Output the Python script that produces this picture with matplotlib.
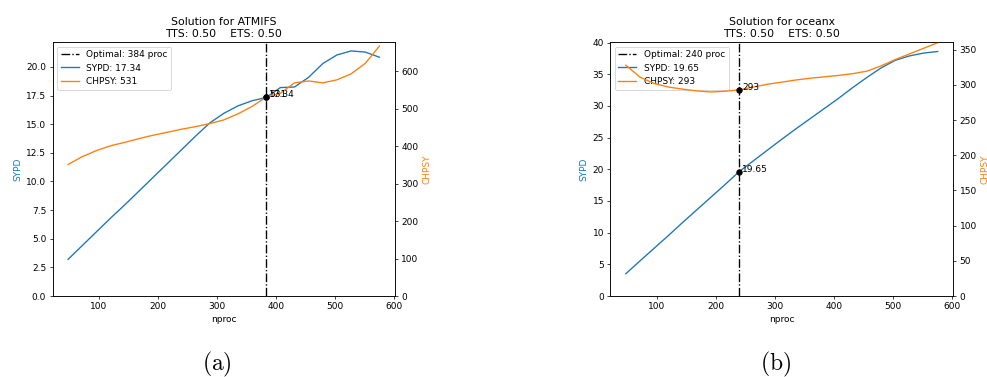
import matplotlib
matplotlib.use("Agg")
import matplotlib.pyplot as plt

plt.rcParams['mathtext.fontset'] = 'cm'

nproc = [48, 72, 96, 120, 144, 168, 192, 216, 240, 264, 288, 312,
         336, 360, 384, 408, 432, 456, 480, 504, 528, 552, 576]

# ATMIFS
sypd_atm = [3.2, 4.4, 5.6, 6.8, 7.95, 9.15, 10.35, 11.55, 12.75, 13.95, 15.1, 15.95,
            16.6, 17.05, 17.34, 18.2, 18.25, 19.1, 20.3, 21.05, 21.4, 21.3, 20.85]
chpsy_atm = [351, 372, 388, 401, 410, 420, 429, 437, 445, 452, 460, 470,
             486, 506, 531, 541, 569, 574, 569, 577, 593, 621, 667]

# oceanx
sypd_oce = [3.53, 5.55, 7.55, 9.55, 11.6, 13.6, 15.6, 17.6, 19.65, 21.35, 23.05, 24.75,
            26.4, 28.0, 29.6, 31.2, 32.9, 34.5, 36.0, 37.2, 37.9, 38.35, 38.6]
chpsy_oce = [328, 311, 302, 297, 294, 291.5, 290, 291, 293, 297, 301, 304,
             307, 309.5, 311.5, 313.5, 316, 319.5, 327, 336, 344, 352, 360]

componentes = ["ATMIFS", "oceanx"]
optimos = [384, 240]
sypd_opt = [17.34, 19.65]
chpsy_opt = [531, 293]
etiquetas = ["(a)", "(b)"]

fig = plt.figure(figsize=(987 / 65, 377 / 65), dpi=65)

posiciones = [[52.5 / 987, 81 / 377, 342.5 / 987, 254 / 377],
              [610.3 / 987, 81 / 377, 343 / 987, 254 / 377]]
limites = [(22.18, 678), (40.1, 361)]
centros = [217 / 987, 776 / 987]

datos = [(sypd_atm, chpsy_atm), (sypd_oce, chpsy_oce)]

for i in range(2):
    sypd, chpsy = datos[i]
    ax1 = fig.add_axes(posiciones[i])
    ax2 = ax1.twinx()

    l0 = ax1.axvline(optimos[i], color="black", linestyle="-.",
                     label=f"Optimal: {optimos[i]} proc")
    l1, = ax1.plot(nproc, sypd, color="tab:blue", label=f"SYPD: {sypd_opt[i]:.2f}")
    l2, = ax2.plot(nproc, chpsy, color="tab:orange", label=f"CHPSY: {chpsy_opt[i]}")

    ax1.plot(optimos[i], sypd_opt[i], "ko")
    ax2.plot(optimos[i], chpsy_opt[i], "ko")
    ax1.text(optimos[i] + 5, sypd_opt[i], f"{sypd_opt[i]:.2f}")
    ax2.text(optimos[i] + 5, chpsy_opt[i], f"{chpsy_opt[i]}")

    ax1.set_ylim(0, limites[i][0])
    ax2.set_ylim(0, limites[i][1])

    ax1.set_xlabel("nproc")
    ax1.set_ylabel("SYPD", color="tab:blue")
    ax2.set_ylabel("CHPSY", color="tab:orange")
    ax1.set_title(f"Solution for {componentes[i]}\nTTS: 0.50    ETS: 0.50")
    ax1.legend(handles=[l0, l1, l2], loc="upper left")

    fig.text(centros[i], 7 / 377, r"$\mathrm{" + etiquetas[i] + "}$",
             fontsize=26, ha="center", va="baseline")

fig.savefig("out.png", dpi=65)
